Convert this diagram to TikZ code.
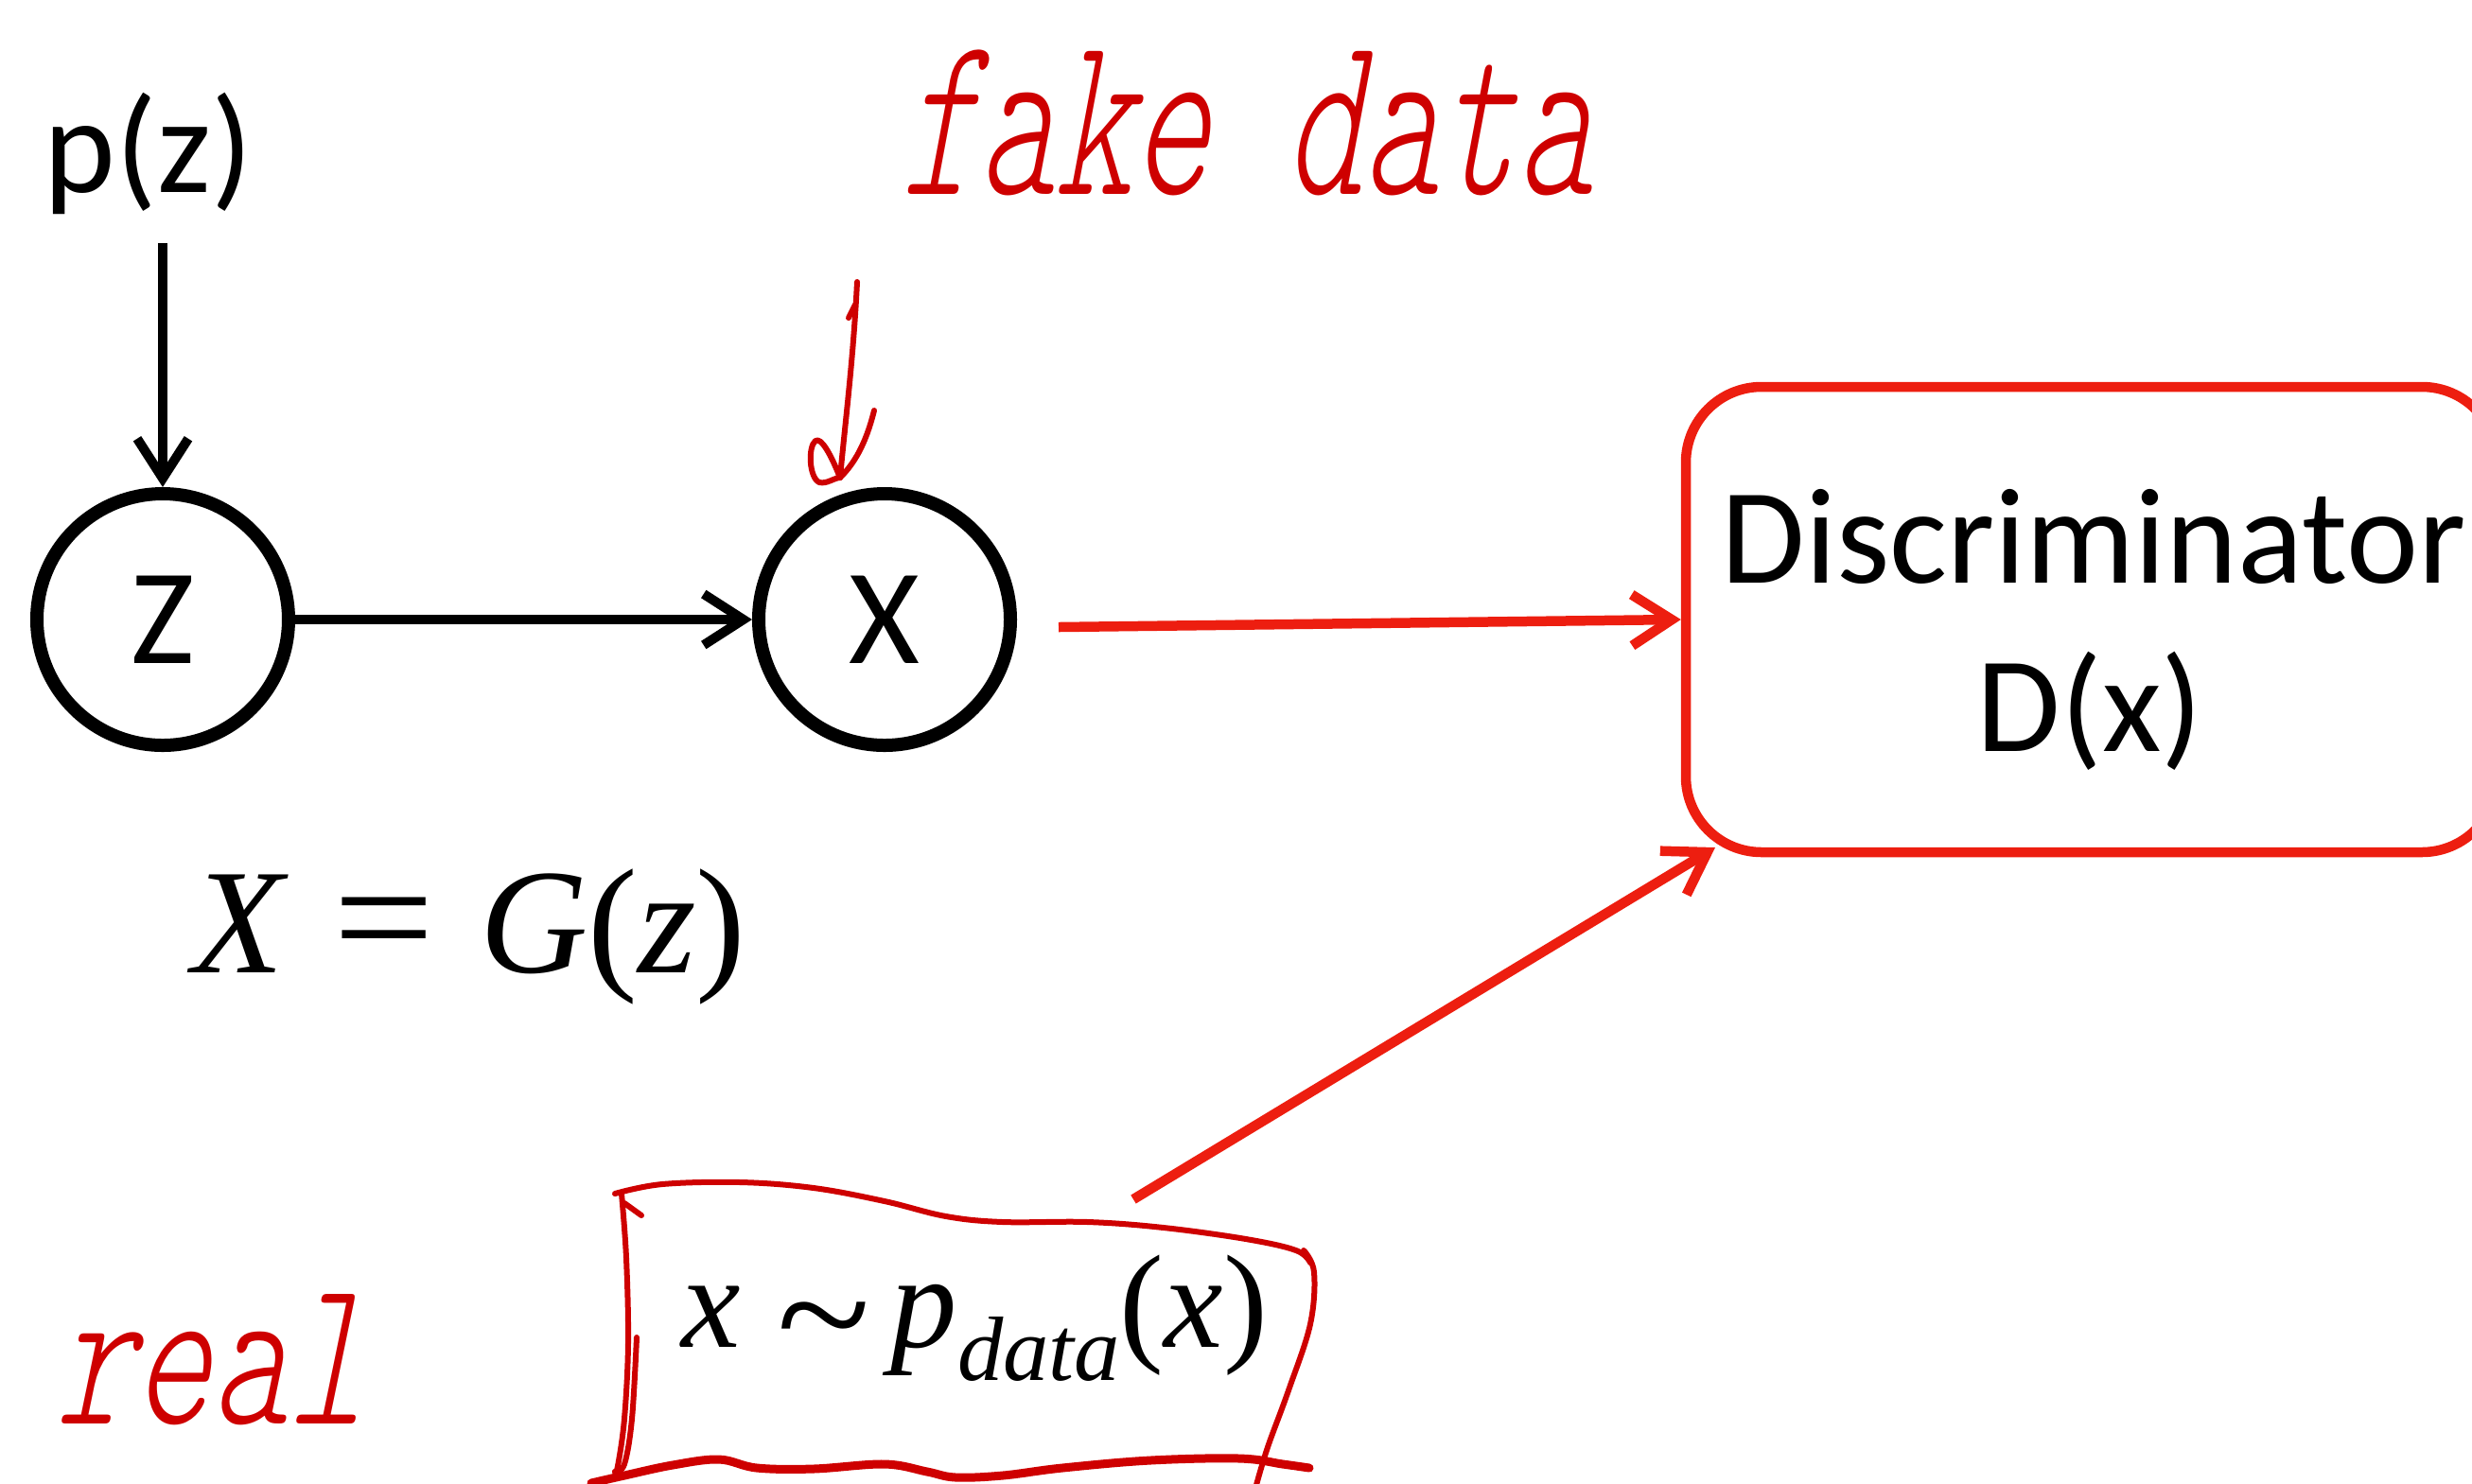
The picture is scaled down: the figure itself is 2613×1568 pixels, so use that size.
\documentclass[tikz,border=0pt]{standalone}
\usepackage{fontspec}
\usepackage{graphicx}
\usetikzlibrary{arrows.meta,calc}
\newfontfamily\calfont{Carlito}
\newfontfamily\timesfont{Liberation Serif}
\newfontfamily\handfont{lmmonolt10-regular.otf}[FakeSlant=0.3]
\definecolor{pptred}{RGB}{237,30,16}
\definecolor{inkred}{RGB}{206,0,0}
\begin{document}
\begin{tikzpicture}[x=0.1mm,y=-0.1mm,
  circ/.style={circle, draw, line width=1.4mm, minimum size=26.6mm, inner sep=0pt,
    font=\calfont\fontsize{41}{50}\selectfont},
  blkarrow/.style={-{Straight Barb[length=4.2mm,width=5.4mm]}, line width=1mm},
  redarrow/.style={blkarrow, draw=pptred, line width=1.05mm},
  dbox/.style={draw=pptred, rounded corners=8mm, line width=1.05mm,
    minimum width=85.8mm, minimum height=49.2mm},
  lbl/.style={font=\calfont\fontsize{41}{50}\selectfont, inner sep=0pt, anchor=base},
  ink/.style={draw=inkred, line width=0.6mm, line cap=round, line join=round},
  hand/.style={text=inkred, inner sep=0pt, anchor=base, font=\handfont\fontsize{44}{50}\selectfont},
  formula/.style={inner sep=0pt, anchor=base}
]
\useasboundingbox (0,0) rectangle (2613,1568);

% Generator side
\node[lbl] (pz) at (157,203) {p(z)};
\node[circ] (Z) at (172,655) {Z};
\node[circ] (X) at (935,655) {X};
\coordinate (pzfoot) at (172,257);
\draw[blkarrow] (pzfoot) -- (Z.north);
\draw[blkarrow] (Z.east) -- (X.west);

\node[formula, font=\timesfont\fontsize{45}{54}\selectfont] (gz) at (496,1028)
  {\textit{X}\hspace{0.3em}\scalebox{1.2}[1.1]{=}\hspace{0.3em}\textit{G}(\textit{z})};

% Discriminator
\node[dbox] (D) at (2211,655) {};
\node[lbl] (dl1) at (2213,616) {Discriminator};
\node[lbl] (dl2) at (2209,794) {D(x)};

\coordinate (fakestart) at (1119,663);
\draw[redarrow] (fakestart) -- (D.west);

% real data formula
\node[formula, font=\timesfont\fontsize{40}{48}\selectfont] (px) at (1030,1424)
  {\textit{x}\hspace{0.28em}\raisebox{-2.2mm}{\scalebox{1.3}[1.2]{\textasciitilde}}\hspace{0.15em}\textit{p}\raisebox{-3.5mm}{\fontsize{27.5}{32}\selectfont\textit{data}}(\textit{x})};

\coordinate (realstart) at (1198,1268);
\coordinate (dcorner) at (1813,896);
\draw[redarrow] (realstart) -- (dcorner);

% handwritten annotations
\node[hand] (fake) at (1318,205) {\scalebox{1}[1.6]{fake data}};
\node[hand] (real) at (222,1505) {\scalebox{1}[1.45]{real}};

\coordinate (inktop) at (906,298);
\coordinate (inktip) at (888,505);
\draw[ink] (inktop) .. controls (902,380) and (893,450) .. (inktip);
\draw[ink] (904,322) -- (897,336);
\draw[ink] (924,434) .. controls (915,470) and (903,490) .. (inktip);
\draw[ink] (inktip) .. controls (878,480) and (868,462) .. (862,466)
  .. controls (854,472) and (855,505) .. (866,510)
  .. controls (874,512) and (882,505) .. (inktip);

% hand-drawn frame around the formula
\draw[ink] plot[smooth, tension=0.6] coordinates {(650,1262) (700,1252) (783,1250) (860,1256) (935,1270) (1000,1286) (1060,1292) (1150,1292) (1230,1298) (1317,1310) (1370,1322) (1385,1335)};
\draw[ink] plot[smooth, tension=0.6] coordinates {(1378,1322) (1389,1345) (1385,1400) (1362,1470) (1340,1530) (1328,1570)};
\draw[ink] plot[smooth, tension=0.6] coordinates {(657,1262) (662,1330) (664,1420) (660,1500) (653,1550) (650,1556)};
\draw[ink] plot[smooth, tension=0.6] coordinates {(650,1556) (660,1548) (668,1500) (673,1414)};
\draw[ink] (660,1272) -- (678,1285);
\draw[ink, line width=0.9mm] plot[smooth, tension=0.6] coordinates {(625,1568) (660,1560) (711,1549) (760,1543) (800,1552) (860,1553) (935,1548) (980,1556) (1010,1562) (1060,1560) (1123,1552) (1216,1544) (1310,1542) (1356,1548) (1384,1552)};
\end{tikzpicture}
\end{document}
